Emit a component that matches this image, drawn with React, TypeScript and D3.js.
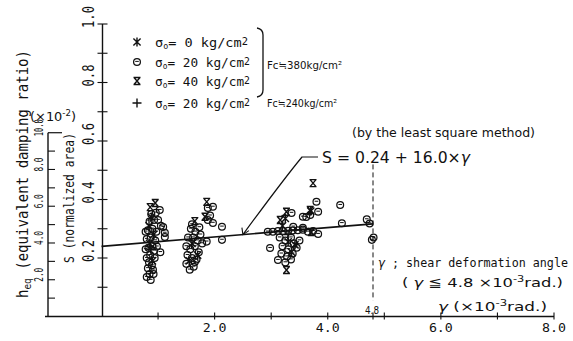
import React from 'react';
import * as d3 from 'd3';

const W = 573;
const H = 341;

// axis ticks
const gammaTicks = [1, 2, 3, 4, 5, 6, 7, 8];
const gammaLabels = [2, 4, 6, 8];
const sTicks = d3.range(0, 11).map((d) => d / 10);
const sLabels = [0.2, 0.4, 0.6, 0.8, 1.0];
const heqTicks = d3.range(0, 11);
const heqLabels = [2, 4, 6, 8, 10];

// regression S = 0.24 + 16.0 * gamma(rad)  -> gamma in 1e-3 rad
const regA = 0.24;
const regB = 0.016;
const gammaMax = 4.8;

// series: [gamma (x1e-3 rad), S]
const sigma0: [number, number][] = [
  [0.88, 0.34], [0.92, 0.28], [0.85, 0.25], [0.9, 0.19], [0.84, 0.31],
  [1.6, 0.25], [1.7, 0.21], [1.55, 0.19],
  [3.2, 0.31], [3.25, 0.335], [3.3, 0.255], [3.36, 0.22], [3.42, 0.245], [3.7, 0.36],
];
const sigma20: [number, number][] = [
  [0.8, 0.135], [0.87, 0.125], [0.92, 0.145], [0.82, 0.165], [0.89, 0.175], [0.8, 0.2],
  [0.86, 0.21], [0.94, 0.2], [0.83, 0.235], [0.9, 0.24], [0.98, 0.239], [0.8, 0.265],
  [0.87, 0.27], [0.95, 0.26], [0.82, 0.295], [0.9, 0.3], [0.97, 0.29], [0.85, 0.325],
  [0.93, 0.33], [1.0, 0.33], [1.03, 0.364], [1.09, 0.306], [1.12, 0.286], [1.12, 0.272],
  [1.05, 0.31], [0.96, 0.355], [0.88, 0.35], [1.04, 0.22], [0.93, 0.225], [0.84, 0.185],
  [0.91, 0.16], [0.85, 0.145], [0.78, 0.23], [0.78, 0.29],
  [1.5, 0.18], [1.56, 0.16], [1.63, 0.17], [1.65, 0.186], [1.52, 0.21], [1.6, 0.2],
  [1.68, 0.195], [1.5, 0.24], [1.57, 0.23], [1.65, 0.24], [1.72, 0.22], [1.53, 0.27],
  [1.62, 0.27], [1.7, 0.26], [1.58, 0.3], [1.66, 0.29], [1.75, 0.28], [1.78, 0.25],
  [1.6, 0.315], [1.73, 0.305],
  [1.88, 0.371], [1.97, 0.375], [1.88, 0.33], [1.97, 0.32], [2.13, 0.307], [2.13, 0.262],
  [1.86, 0.256], [1.92, 0.345],
  [2.94, 0.29], [3.03, 0.29], [3.12, 0.292], [3.21, 0.292], [3.3, 0.293], [3.38, 0.294],
  [3.47, 0.295], [3.56, 0.297], [3.65, 0.29], [3.74, 0.292], [3.83, 0.282],
  [2.98, 0.234], [3.12, 0.193], [3.15, 0.27], [3.25, 0.26], [3.35, 0.27], [3.2, 0.24],
  [3.3, 0.23], [3.4, 0.25], [3.18, 0.215], [3.28, 0.205], [3.38, 0.215], [3.45, 0.235],
  [3.25, 0.185], [3.35, 0.195], [3.5, 0.26],
  [3.8, 0.392], [3.56, 0.341], [3.69, 0.347], [3.83, 0.358], [3.36, 0.354], [3.39, 0.307],
  [3.56, 0.303], [3.62, 0.34],
  [4.22, 0.381], [4.25, 0.319], [4.69, 0.332], [4.74, 0.318], [4.78, 0.262], [4.81, 0.27],
];
const sigma40: [number, number][] = [
  [0.86, 0.374], [0.95, 0.388], [1.65, 0.326], [1.86, 0.392], [1.83, 0.341],
  [3.74, 0.456], [3.27, 0.159], [3.69, 0.364], [3.27, 0.358], [3.16, 0.33], [3.71, 0.289],
];
const fc240: [number, number][] = [
  [0.87, 0.23], [3.3, 0.28],
];

const x = d3.scaleLinear().domain([0, 8]).range([101.5, 554]);
const y = d3.scaleLinear().domain([0, 1]).range([316.5, 24]);
// heq (x1e-2) = S / (2 pi) * 100
const yh = d3.scaleLinear().domain([0, 10]).range([y(0), y(0.2 * Math.PI)]);

const INK = '#111';
const MONO = '"DejaVu Sans Mono", monospace';
const SANS = '"DejaVu Sans", sans-serif';

const circleGlyph = (
  <g>
    <circle r={3.4} fill="none" stroke={INK} strokeWidth={1.25} />
    <line x1={-1.8} x2={1.8} y1={-0.6} y2={-0.6} stroke={INK} strokeWidth={1} />
  </g>
);
const asteriskGlyph = (
  <path d="M0,-4.5V4.5M-3.6,-3.6L3.6,3.6M3.6,-3.6L-3.6,3.6" stroke={INK} strokeWidth={1.4} fill="none" />
);
const xGlyph = (
  <path d="M-3,-3.5L3,3.5M3,-3.5L-3,3.5M-3.5,-3.5H3.5M-3.5,3.5H3.5" stroke={INK} strokeWidth={1.4} fill="none" />
);
const plusGlyph = (
  <path d="M-4.5,0H4.5M0,-4.5V4.5" stroke={INK} strokeWidth={1.4} fill="none" />
);

function Marks({ data, glyph }: { data: [number, number][]; glyph: React.ReactNode }) {
  return (
    <g>
      {data.map((d, i) => (
        <g key={i} transform={`translate(${x(d[0])},${y(d[1])})`}>{glyph}</g>
      ))}
    </g>
  );
}

export default function App() {
  const reg = d3.line<number>().x((g) => x(g)).y((g) => y(regA + regB * g));
  const tipG = 2.5;
  const tipX = x(tipG);
  const tipY = y(regA + regB * tipG);

  const legendRows = [
    { glyph: asteriskGlyph, val: '0', yy: 42, w: 93 },
    { glyph: circleGlyph, val: '20', yy: 62, w: 95 },
    { glyph: xGlyph, val: '40', yy: 81, w: 95 },
    { glyph: plusGlyph, val: '20', yy: 103, w: 95 },
  ];

  return (
    <svg width={W} height={H} viewBox={`0 0 ${W} ${H}`} style={{ position: 'absolute', left: 0, top: 0, background: '#fff' }}>
      <rect width={W} height={H} fill="#fff" />

      {/* x axis */}
      <line x1={45} x2={x(8)} y1={y(0)} y2={y(0)} stroke={INK} strokeWidth={1.4} />
      {gammaTicks.map((t) => (
        <line key={t} x1={x(t)} x2={x(t)} y1={y(0) - 4} y2={y(0) + 3} stroke={INK} strokeWidth={1.1} />
      ))}
      <line x1={x(gammaMax)} x2={x(gammaMax)} y1={y(0) - 4} y2={y(0) + 3} stroke={INK} strokeWidth={1.1} />
      {gammaLabels.map((t) => (
        <text key={t} x={x(t)} y={y(0) + 15} textAnchor="middle" fontFamily={MONO} fontSize={13}
          textLength={24} lengthAdjust="spacingAndGlyphs" fill={INK}>{t.toFixed(1)}</text>
      ))}
      <text x={x(gammaMax) - 1} y={y(0) - 3} textAnchor="middle" fontFamily={SANS} fontSize={11} fill={INK}
        textLength={14} lengthAdjust="spacingAndGlyphs">{gammaMax.toFixed(1)}</text>

      {/* S axis */}
      <line x1={x(0) + 1} x2={x(0) + 1} y1={y(0)} y2={y(1)} stroke={INK} strokeWidth={1.4} />
      {sTicks.slice(1).map((t) => (
        <line key={t} x1={x(0) - 4} x2={x(0) + 6} y1={y(t)} y2={y(t)} stroke={INK} strokeWidth={1.1} />
      ))}
      {sLabels.map((t) => (
        <text key={t} transform={`translate(${94},${y(t) - 7}) rotate(-90)`} textAnchor="middle"
          fontFamily={MONO} fontSize={15} textLength={22} lengthAdjust="spacingAndGlyphs" fill={INK}>
          {t.toFixed(1)}
        </text>
      ))}

      {/* heq axis */}
      <line x1={48} x2={48} y1={y(0)} y2={yh(10)} stroke={INK} strokeWidth={1.4} />
      <line x1={48} x2={62} y1={yh(10)} y2={yh(10)} stroke={INK} strokeWidth={1.2} />
      {heqTicks.slice(1, 10).map((t) => (
        <line key={t} x1={48} x2={55} y1={yh(t)} y2={yh(t)} stroke={INK} strokeWidth={1.1} />
      ))}
      {heqLabels.map((t) => (
        <text key={t} transform={`translate(${43},${yh(t) - 5}) rotate(-90)`} textAnchor="middle"
          fontFamily={MONO} fontSize={13} textLength={t === 10 ? 17 : 14} lengthAdjust="spacingAndGlyphs" fill={INK}>
          {t.toFixed(1)}
        </text>
      ))}
      <text x={30} y={121} fontFamily={SANS} fontSize={12} fill={INK} textLength={46} lengthAdjust="spacingAndGlyphs">
        (×10<tspan fontSize={8} dy={-5}>-2</tspan><tspan dy={5}>)</tspan>
      </text>

      {/* axis titles */}
      <text transform={`translate(${28},${174}) rotate(-90)`} textAnchor="middle" fontFamily={MONO} fontSize={15}
        fill={INK} textLength={248} lengthAdjust="spacingAndGlyphs">
        h<tspan fontSize={10} dy={3}>eq</tspan><tspan dy={-3}> (equivalent damping ratio)</tspan>
      </text>
      <text transform={`translate(${74},${198}) rotate(-90)`} textAnchor="middle" fontFamily={MONO} fontSize={14}
        fill={INK} textLength={130} lengthAdjust="spacingAndGlyphs">
        S (normalized area)
      </text>

      {/* regression line */}
      <path d={reg([0, gammaMax]) || ''} fill="none" stroke={INK} strokeWidth={1.7} />
      <line x1={x(gammaMax)} x2={x(gammaMax)} y1={y(0.52)} y2={y(0) - 16} stroke={INK} strokeWidth={1}
        strokeDasharray="5,3" />

      {/* leader */}
      <path d={`M318,157H302Q283,180 ${tipX},${tipY}`} fill="none" stroke={INK} strokeWidth={1.2} />
      <path d={`M${tipX - 1},${tipY - 7}L${tipX},${tipY}L${tipX + 6},${tipY - 4}`} fill="none" stroke={INK} strokeWidth={1.1} />

      {/* points */}
      <Marks data={sigma20} glyph={circleGlyph} />
      <Marks data={sigma0} glyph={asteriskGlyph} />
      <Marks data={sigma40} glyph={xGlyph} />
      <Marks data={fc240} glyph={plusGlyph} />

      {/* annotations */}
      <text x={352} y={137} fontFamily={SANS} fontSize={12} fill={INK} textLength={183} lengthAdjust="spacingAndGlyphs">
        (by the least square method)
      </text>
      <text x={322} y={163} fontFamily={SANS} fontSize={15} fill={INK} textLength={148} lengthAdjust="spacingAndGlyphs">
        S = 0.24 + 16.0×<tspan fontStyle="italic">γ</tspan>
      </text>
      <text x={378} y={267} fontFamily={MONO} fontSize={12} fill={INK} textLength={190} lengthAdjust="spacingAndGlyphs">
        <tspan fontStyle="italic" fontFamily={SANS}>γ</tspan> ; shear deformation angle
      </text>
      <text x={402} y={287} fontFamily={SANS} fontSize={13} fill={INK} textLength={161} lengthAdjust="spacingAndGlyphs">
        ( <tspan fontStyle="italic">γ</tspan>  ≦ 4.8 ×10<tspan fontSize={9} dy={-5}>-3</tspan><tspan dy={5}>rad.)</tspan>
      </text>
      <text x={438} y={311} fontFamily={SANS} fontSize={13} fill={INK} textLength={109} lengthAdjust="spacingAndGlyphs">
        <tspan fontStyle="italic">γ</tspan>  (×10<tspan fontSize={9} dy={-5}>-3</tspan><tspan dy={5}>rad.)</tspan>
      </text>

      {/* legend */}
      {legendRows.map((r, i) => (
        <g key={i}>
          <g transform={`translate(137,${r.yy})`}>{r.glyph}</g>
          <text x={155} y={r.yy + 4.5} fontFamily={MONO} fontSize={13} fill={INK} textLength={r.w} lengthAdjust="spacingAndGlyphs">
            σ<tspan fontSize={8} dy={2}>o</tspan><tspan dy={-2}>= {r.val} kg/cm</tspan><tspan fontSize={10} dy={-2}>2</tspan>
          </text>
        </g>
      ))}
      <path d="M257,28Q263,29 263,35V90Q263,96 257,97" fill="none" stroke={INK} strokeWidth={1.3} />
      <text x={267} y={69} fontFamily={SANS} fontSize={11} fill={INK} textLength={75} lengthAdjust="spacingAndGlyphs">
        Fc≒380kg/cm²
      </text>
      <text x={267} y={107} fontFamily={SANS} fontSize={11} fill={INK} textLength={70} lengthAdjust="spacingAndGlyphs">
        Fc≒240kg/cm²
      </text>
    </svg>
  );
}
